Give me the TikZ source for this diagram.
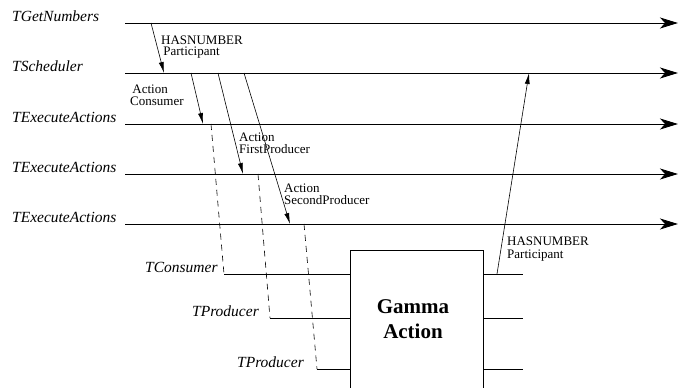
\documentclass[tikz,border=0pt]{standalone}
\usepackage{fontspec}
\setmainfont{Liberation Serif}
\usetikzlibrary{arrows.meta}
\begin{document}
\begin{tikzpicture}[x=1pt,y=-1pt,
  lifeline/.style={line width=0.9pt,-{Stealth[length=18pt,width=11pt,inset=5pt]}},
  msg/.style={line width=0.6pt,-{Latex[length=11pt,width=5pt]}},
  link/.style={line width=0.6pt,dash pattern=on 6pt off 5pt},
  port/.style={line width=0.8pt},
  thread/.style={font=\fontsize{15.5}{17}\selectfont\itshape,anchor=base west,inner sep=0pt},
  note/.style={font=\fontsize{13}{11.8}\selectfont,anchor=base west,inner sep=0pt,align=left}]
\useasboundingbox (0,0) rectangle (678,388);

% thread lifelines
\foreach \n/\y in {get/23,sch/73,ex1/124,ex2/174,ex3/224}{
  \coordinate (\n-a) at (125,\y);
  \coordinate (\n-b) at (678,\y);
  \draw[lifeline] (\n-a) -- (\n-b);
}
\node[thread] (lget) at (12,21) {TGetNumbers};
\node[thread] (lsch) at (12,71) {TScheduler};
\node[thread] (lex1) at (12,122) {TExecuteActions};
\node[thread] (lex2) at (12,172) {TExecuteActions};
\node[thread] (lex3) at (12,222) {TExecuteActions};

% messages between threads
\coordinate (m1s) at (151,23);  \coordinate (m1e) at (164,73);
\coordinate (m2s) at (191,73);  \coordinate (m2e) at (203,124);
\coordinate (m3s) at (218,73);  \coordinate (m3e) at (243,174);
\coordinate (m4s) at (244,73);  \coordinate (m4e) at (290,224);
\draw[msg] (m1s) -- (m1e);
\draw[msg] (m2s) -- (m2e);
\draw[msg] (m3s) -- (m3e);
\draw[msg] (m4s) -- (m4e);
% (anchor base = baseline of the last line)
\node[note] (n1) at (161,56) {HASNUMBER\\\,Participant};
\node[note] (n2) at (130,105) {\,Action\\Consumer};
\node[note] (n3) at (239,153) {Action\\FirstProducer};
\node[note] (n4) at (284,204) {Action\\SecondProducer};

% gamma action box
\coordinate (bl) at (350,388); \coordinate (tl) at (350,250);
\coordinate (tr) at (483,250); \coordinate (br) at (483,388);
\draw[port] (bl) -- (tl) -- (tr) -- (br);
\node[font=\fontsize{21}{25}\selectfont\bfseries,align=center,anchor=base,inner sep=0pt] (gamma) at (413,338) {Gamma\\Action};

% input ports
\coordinate (pc) at (224,274); \coordinate (pc2) at (350,274);
\coordinate (pp) at (270,318); \coordinate (pp2) at (350,318);
\coordinate (pq) at (317,369); \coordinate (pq2) at (350,369);
\draw[port] (pc) -- (pc2);
\draw[port] (pp) -- (pp2);
\draw[port] (pq) -- (pq2);
\node[thread] (lcons) at (145,272) {TConsumer};
\node[thread] (lprod1) at (192,316) {TProducer};
\node[thread] (lprod2) at (237,367) {TProducer};

% output ports
\coordinate (o1a) at (483,274); \coordinate (o1b) at (523,274);
\coordinate (o2a) at (483,318); \coordinate (o2b) at (523,318);
\coordinate (o3a) at (483,369); \coordinate (o3b) at (523,369);
\draw[port] (o1a) -- (o1b);
\draw[port] (o2a) -- (o2b);
\draw[port] (o3a) -- (o3b);

% thread bindings
\coordinate (d1) at (211,124);
\coordinate (d2) at (258,174);
\coordinate (d3) at (304,224);
\draw[link] (d1) -- (pc);
\draw[link] (d2) -- (pp);
\draw[link] (d3) -- (pq);

% result back to the scheduler
\coordinate (r1) at (497,274); \coordinate (r2) at (529,73);
\draw[msg] (r1) -- (r2);
\node[note,font=\fontsize{13}{13}\selectfont] (n5) at (507,258) {HASNUMBER\\Participant};
\end{tikzpicture}
\end{document}
